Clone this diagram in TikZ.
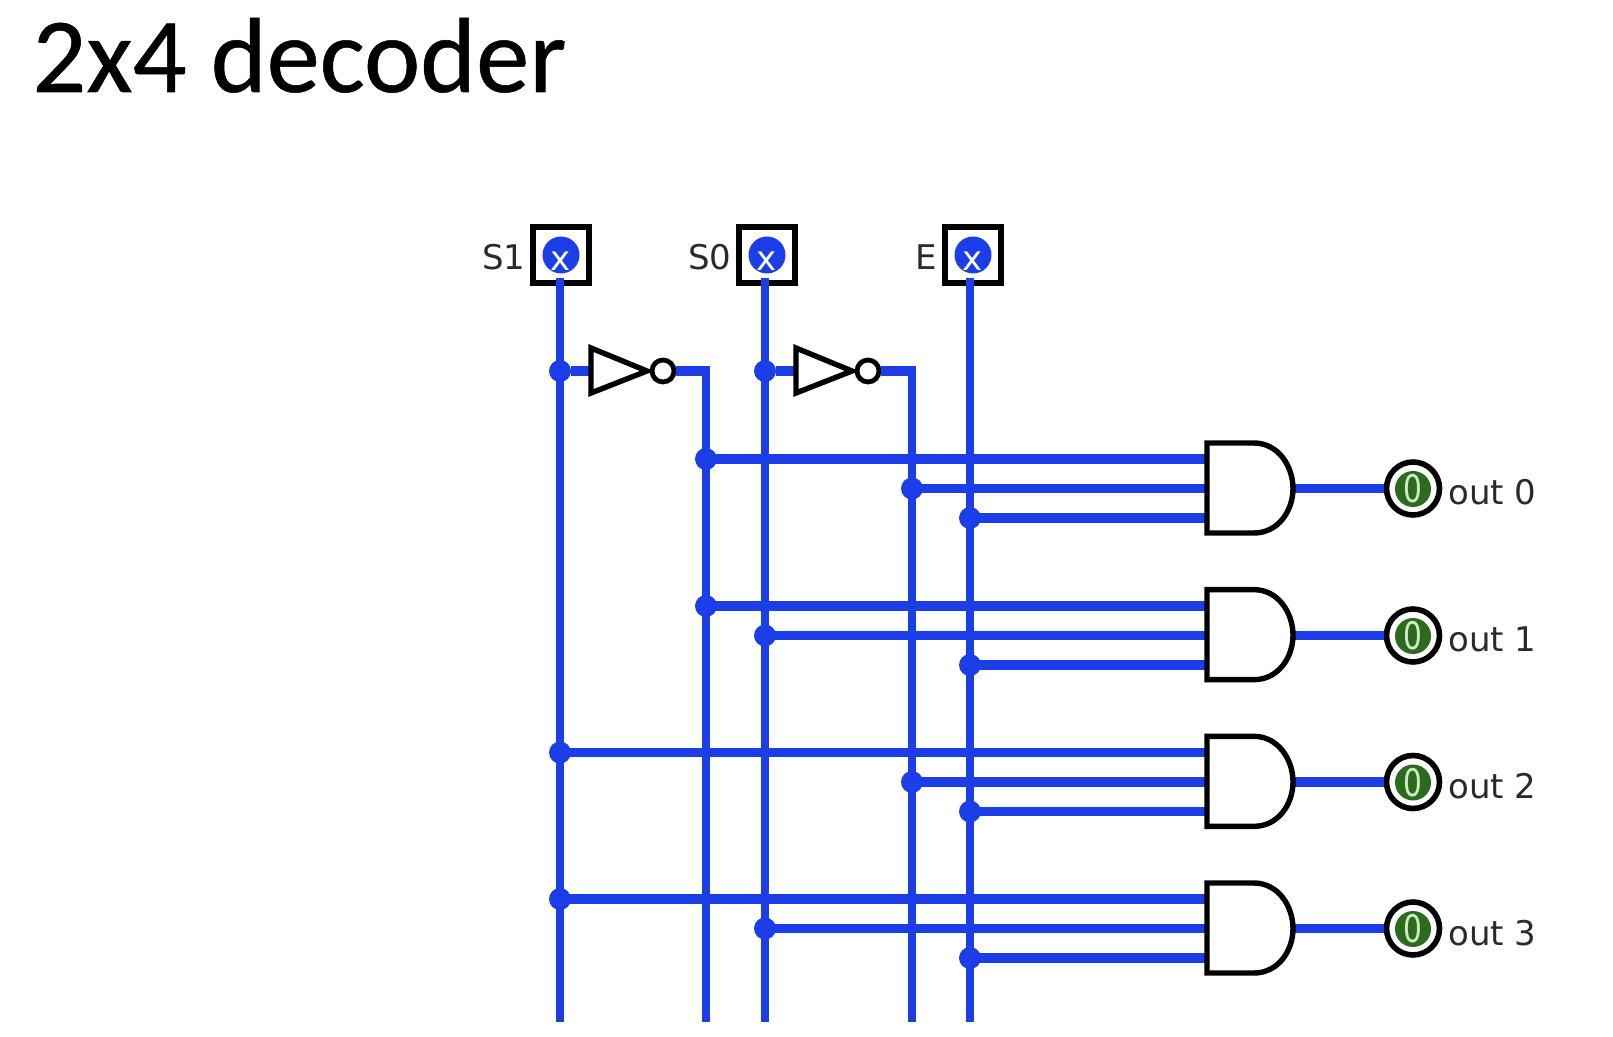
\documentclass[tikz,border=0pt]{standalone}
\usepackage{fontspec}
\setmainfont{DejaVu Sans}
\newfontfamily\titlefont[FakeBold=0.5]{Carlito}
\definecolor{wire}{HTML}{1C3EE8}
\definecolor{ledgreen}{HTML}{2C6A1E}
\definecolor{ledtext}{HTML}{CFEBC6}
\definecolor{labelgrey}{HTML}{2A2A2A}
\tikzset{
  wirebus/.style={draw=wire,line width=4.8pt},
  wirev/.style={draw=wire,line width=4.2pt},
  jdot/.style={circle,fill=wire,inner sep=0pt,minimum size=11pt},
  gateline/.style={draw=black,line width=2.7pt,fill=white,line join=miter},
  inbox/.style={draw=black,line width=3.2pt,fill=white,minimum size=28pt,inner sep=0pt},
  indot/.style={circle,fill=wire,inner sep=0pt,minimum size=18.5pt},
  inx/.style={text=white,font=\fontsize{17}{17}\selectfont,inner sep=0pt},
  bubble/.style={circle,draw=black,line width=2.4pt,fill=white,inner sep=0pt,minimum size=11pt},
  outring/.style={circle,draw=black,line width=2.8pt,fill=white,inner sep=0pt,minimum size=26.5pt},
  outdot/.style={circle,fill=ledgreen,inner sep=0pt,minimum size=18pt},
  outzero/.style={text=ledtext,font=\fontsize{19}{19}\selectfont,inner sep=0pt,xscale=0.78,transform shape},
  lab/.style={text=labelgrey,font=\fontsize{17}{17}\selectfont,inner sep=0pt,anchor=base west},
}
\begin{document}
\begin{tikzpicture}[x=0.5pt,y=-0.5pt]
\useasboundingbox (0,0) rectangle (1613,1037);
\node[font=\titlefont\fontsize{53.3}{53.3}\selectfont,inner sep=0pt,anchor=base west] (title) at (32,92) {2x4 decoder};

% input wires: ends at the bottom
\coordinate (b1) at (560,1022);
\coordinate (b2) at (706,1022);
\coordinate (b3) at (765,1022);
\coordinate (b4) at (912,1022);
\coordinate (b5) at (970,1022);

% inputs
\node[inbox] (s1) at (561,255) {};
\node[inbox] (s0) at (767,255) {};
\node[inbox] (en) at (973,255) {};
\node[indot] (s1d) at (561,255) {};
\node[indot] (s0d) at (767,255) {};
\node[indot] (end) at (973,255) {};
\node[inx] (s1x) at (561,261) {x};
\node[inx] (s0x) at (767,261) {x};
\node[inx] (enx) at (973,261) {x};
\node[lab] (s1l) at (482,270) {S1};
\node[lab] (s0l) at (688,270) {S0};
\node[lab] (enl) at (915,270) {E};
\coordinate (s1o) at (560,278);
\coordinate (s0o) at (765,278);
\coordinate (eno) at (970,278);

% verticals
\draw[wirev] (s1o) -- (b1);
\draw[wirev] (s0o) -- (b3);
\draw[wirev] (eno) -- (b5);

% inverters
\foreach \n/\x/\w/\e in {a/560/706/b2,b/765/912/b4}{
  \node[jdot] (j\n) at (\x,371) {};
  \coordinate (c\n) at (\w,371);
  \coordinate (ct\n) at (\w,366);
  \node[bubble] (bub\n) at (\x+103,371) {};
  \coordinate (tri\n) at (\x+31,371);
  \draw[wirebus] (j\n) -- (tri\n);
  \draw[wirebus] (bub\n.east) -- ([xshift=2.1pt]c\n);
  \draw[wirev] (ct\n) -- (\e);
  \draw[gateline] (\x+31,348) -- (\x+87,371) -- (\x+31,393) -- cycle;
}

% AND gates
\foreach \i/\y in {0/443,1/590,2/736.5,3/883}{
  \coordinate (g\i a) at (1207,\y+16);
  \coordinate (g\i b) at (1207,\y+45.5);
  \coordinate (g\i c) at (1207,\y+75);
  \coordinate (g\i o) at (1291,\y+45.5);
  \node[outring] (o\i) at (1413,\y+45.5) {};
  \node[outdot] (od\i) at (1413,\y+46) {};
  \node[outzero] (oz\i) at (1413,\y+46) {0};
  \node[lab] (ol\i) at (1448,\y+62) {out \i};
  \draw[wirebus] (g\i o) -- (o\i);
}

% junctions
\node[jdot] (k0a) at (706,459) {};
\node[jdot] (k0b) at (912,488.5) {};
\node[jdot] (k0c) at (970,518) {};
\node[jdot] (k1a) at (706,606) {};
\node[jdot] (k1b) at (765,635.5) {};
\node[jdot] (k1c) at (970,665) {};
\node[jdot] (k2a) at (560,752.5) {};
\node[jdot] (k2b) at (912,782) {};
\node[jdot] (k2c) at (970,811.5) {};
\node[jdot] (k3a) at (560,899) {};
\node[jdot] (k3b) at (765,928.5) {};
\node[jdot] (k3c) at (970,958) {};

\foreach \i in {0,1,2,3}{
  \foreach \p in {a,b,c}{
    \draw[wirebus] (k\i\p.center) -- (g\i\p);
  }
  \draw[gateline] (1207,443+146.67*\i) -- (1254,443+146.67*\i)
     .. controls (1278,443+146.67*\i) and (1293,466+146.67*\i) .. (1293,488.5+146.67*\i)
     .. controls (1293,511+146.67*\i) and (1278,533+146.67*\i) .. (1254,533+146.67*\i)
     -- (1207,533+146.67*\i) -- cycle;
}
\end{tikzpicture}
\end{document}
